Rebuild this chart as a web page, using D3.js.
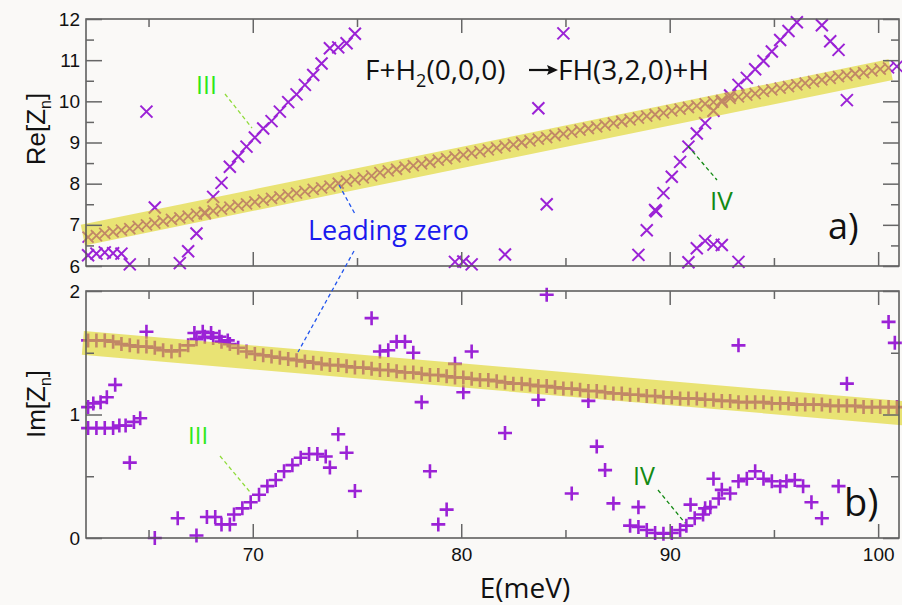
<!DOCTYPE html>
<html><head><meta charset="utf-8">
<script src="https://cdn.jsdelivr.net/npm/d3@7"></script>
<style>html,body{margin:0;padding:0;background:#faf9f7;} svg{display:block}</style>
</head><body><svg id="c" width="902" height="605"></svg>
<script>
// ---------------- data ----------------
const leadE = [62.1,62.5,62.9,63.3,63.7,64.1,64.5,64.9,65.3,65.7,66.1,66.5,66.9,67.3,67.7,68.1,68.5,68.9,69.3,69.7,70.1,70.5,70.9,71.3,71.7,72.1,72.5,72.9,73.3,73.7,74.1,74.5,74.9,75.3,75.7,76.1,76.5,76.9,77.3,77.7,78.1,78.5,78.9,79.3,79.7,80.1,80.5,80.9,81.3,81.7,82.1,82.5,82.9,83.3,83.7,84.1,84.5,84.9,85.3,85.7,86.1,86.5,86.9,87.3,87.7,88.1,88.5,88.9,89.3,89.7,90.1,90.5,90.9,91.3,91.7,92.1,92.5,92.9,93.3,93.7,94.1,94.5,94.9,95.3,95.7,96.1,96.5,96.9,97.3,97.7,98.1,98.5,98.9,99.3,99.7,100.1,100.5,100.9];
const leadRe = [6.70,6.74,6.79,6.83,6.87,6.91,6.96,7.00,7.04,7.09,7.13,7.17,7.21,7.26,7.30,7.34,7.38,7.43,7.47,7.51,7.56,7.60,7.64,7.68,7.73,7.77,7.81,7.86,7.90,7.94,8.01,8.06,8.10,8.14,8.19,8.27,8.31,8.35,8.40,8.44,8.48,8.52,8.57,8.61,8.65,8.70,8.74,8.78,8.82,8.87,8.91,8.95,9.00,9.04,9.08,9.12,9.17,9.21,9.25,9.30,9.34,9.38,9.42,9.47,9.51,9.55,9.59,9.64,9.68,9.72,9.77,9.81,9.85,9.89,9.94,9.98,10.02,10.07,10.11,10.15,10.19,10.24,10.28,10.32,10.36,10.40,10.44,10.48,10.52,10.56,10.60,10.63,10.67,10.70,10.74,10.78,10.81,10.85];
const leadIm = [1.60,1.60,1.60,1.59,1.57,1.56,1.55,1.55,1.54,1.52,1.51,1.52,1.56,1.61,1.63,1.62,1.59,1.57,1.54,1.51,1.49,1.48,1.47,1.46,1.45,1.44,1.43,1.42,1.41,1.40,1.40,1.39,1.38,1.38,1.37,1.36,1.36,1.35,1.34,1.34,1.33,1.32,1.32,1.31,1.30,1.30,1.29,1.28,1.28,1.27,1.26,1.25,1.25,1.24,1.23,1.23,1.22,1.21,1.21,1.20,1.19,1.19,1.18,1.17,1.17,1.16,1.16,1.15,1.15,1.14,1.14,1.13,1.13,1.13,1.12,1.12,1.11,1.11,1.10,1.10,1.10,1.10,1.09,1.09,1.09,1.08,1.08,1.08,1.08,1.07,1.07,1.07,1.07,1.06,1.06,1.06,1.06,1.06];

// Re[Z] other zeros (top panel)
const reIIIE = [66.5,66.9,67.3,67.7,68.1,68.5,68.9,69.3,69.7,70.1,70.5,70.9,71.3,71.7,72.1,72.5,72.9,73.3,73.7,74.1,74.5,74.9];
const reIIIV = [6.07,6.36,6.79,7.28,7.68,8.02,8.41,8.66,8.90,9.12,9.34,9.52,9.75,9.98,10.17,10.40,10.64,10.92,11.29,11.31,11.41,11.64];
const reIVE = [88.5,88.9,89.3,89.35,89.7,90.1,90.5,90.9,91.3,91.7,92.1,92.5,92.9,93.3,93.7,94.1,94.5,94.9,95.3,95.7,96.1,97.3,97.7,98.1,98.5];
const reIVV = [6.27,6.87,7.36,7.33,7.77,8.17,8.53,8.90,9.22,9.47,9.77,9.99,10.14,10.40,10.57,10.78,10.98,11.21,11.49,11.71,11.92,11.85,11.46,11.25,10.03];
const reOtherE = [62.1,62.5,62.9,63.3,63.7,64.1,64.9,65.3,79.7,80.1,80.5,82.1,83.7,84.1,84.9,90.9,91.3,91.7,92.1,92.5,93.3];
const reOtherV = [6.26,6.30,6.33,6.31,6.30,6.04,9.75,7.42,6.10,6.11,6.04,6.28,9.83,7.50,11.65,6.09,6.43,6.61,6.52,6.51,6.10];

// Im[Z] other zeros (bottom panel)
const imIIIE = [65.3,66.4,67.3,67.8,68.2,68.5,68.9,69.1,69.5,69.9,70.3,70.7,71.1,71.5,71.9,72.3,72.7,73.1,73.5,73.7,74.1,74.5,74.9];
const imIIIV = [0.00,0.16,0.02,0.17,0.17,0.11,0.11,0.19,0.24,0.29,0.35,0.42,0.47,0.54,0.59,0.65,0.68,0.68,0.66,0.57,0.84,0.69,0.38];
const imIVE = [88.1,88.5,88.5,88.9,89.3,89.7,90.1,90.5,90.8,91.0,91.2,91.6,91.7,91.95,92.1,92.35,92.5,92.9,93.3,93.7,94.1,94.5,94.9,95.3,95.6,96.0,96.4,96.8,97.3,98.1];
const imIVV = [0.10,0.25,0.09,0.065,0.04,0.035,0.04,0.065,0.10,0.27,0.16,0.19,0.24,0.25,0.48,0.32,0.39,0.36,0.46,0.48,0.54,0.48,0.46,0.42,0.46,0.47,0.42,0.29,0.16,0.42];
const imOtherE = [62.1,62.35,62.7,63.0,63.4,62.1,62.5,62.9,63.3,63.6,63.9,64.3,64.6,64.1,64.9,67.2,67.6,68.0,68.4,68.8,75.7,76.1,76.5,76.9,77.3,77.7,78.1,78.5,78.9,79.3,79.7,80.1,80.5,82.1,83.7,84.1,85.3,86.1,86.5,86.9,87.3,93.3,98.5,100.5,100.8];
const imOtherV = [1.06,1.09,1.10,1.14,1.24,0.89,0.89,0.89,0.89,0.91,0.91,0.94,0.97,0.61,1.67,1.66,1.67,1.66,1.63,1.60,1.78,1.51,1.52,1.59,1.59,1.50,1.10,0.54,0.11,0.23,1.41,1.18,1.51,0.85,1.12,1.97,0.36,1.11,0.74,0.55,0.28,1.56,1.25,1.75,1.58];

const xMajor = [70,80,90,100];
const xMinor = [65,75,85,95];
const reMajor = [6,7,8,9,10,11,12];
const reMinor = [6.5,7.5,8.5,9.5,10.5,11.5];
const imMajor = [0,1,2];
const imMinor = [0.5,1.5];

// ---------------- layout ----------------
const svg = d3.select("#c");
const W = 902, H = 605;
svg.append("rect").attr("width", W).attr("height", H).attr("fill", "#faf9f7");

const L = 86, R = 899;
const topT = 19, topB = 266, botT = 291, botB = 538;
const x = d3.scaleLinear().domain([62, 101]).range([L, R]);
const yRe = d3.scaleLinear().domain([6, 12]).range([topB, topT]);
const yIm = d3.scaleLinear().domain([0, 2]).range([botB, botT]);

const PURPLE = "#9b22d6";
const xPath = s => `M${-s},${-s}L${s},${s}M${-s},${s}L${s},${-s}`;
const pPath = s => `M${-s},0L${s},0M0,${-s}L0,${s}`;

function marks(g, E, V, y, shape, size, sw) {
  g.selectAll(null).data(E.map((e, i) => [e, V[i]])).join("path")
    .attr("transform", d => `translate(${x(d[0])},${y(d[1])})`)
    .attr("d", shape(size))
    .attr("fill", "none").attr("stroke", PURPLE).attr("stroke-width", sw);
}

const gTop = svg.append("g");
marks(gTop, reOtherE, reOtherV, yRe, xPath, 6, 2);
marks(gTop, reIIIE, reIIIV, yRe, xPath, 6, 2);
marks(gTop, reIVE, reIVV, yRe, xPath, 6, 2);
marks(gTop, leadE, leadRe, yRe, xPath, 5.5, 1.8);

const gBot = svg.append("g");
marks(gBot, imOtherE, imOtherV, yIm, pPath, 7, 2.6);
marks(gBot, imIIIE, imIIIV, yIm, pPath, 7, 2.6);
marks(gBot, imIVE, imIVV, yIm, pPath, 7, 2.6);
marks(gBot, leadE, leadIm, yIm, pPath, 7, 2.6);

// highlight bands (translucent yellow)
const band = (e0, v0, e1, v1, y, w) => svg.append("line")
  .attr("x1", x(e0)).attr("y1", y(v0)).attr("x2", x(e1)).attr("y2", y(v1))
  .attr("stroke", "rgb(220,210,20)").attr("stroke-opacity", 0.58)
  .attr("stroke-width", w);
band(61.85, 6.75, 100.6, 10.77, yRe, 21);
band(61.85, 1.58, 101.2, 1.01, yIm, 24);

// frames and axes
function frame(t, b, y, major, minor, showX) {
  svg.append("rect").attr("x", L).attr("y", t).attr("width", R - L).attr("height", b - t)
    .attr("fill", "none").attr("stroke", "#555").attr("stroke-width", 1.5);
  const style = g => {
    g.select(".domain").remove();
    g.selectAll("line").attr("stroke", "#666").attr("stroke-width", 1.5);
    g.selectAll("text").attr("fill", "#111").attr("font-family", "Liberation Sans, Arial, sans-serif").attr("font-size", 19);
  };
  svg.append("g").attr("transform", `translate(${L},0)`)
    .call(d3.axisLeft(y).tickValues(major).tickSize(-16).tickPadding(6).tickFormat(d3.format("d"))).call(style);
  svg.append("g").attr("transform", `translate(${L},0)`)
    .call(d3.axisLeft(y).tickValues(minor).tickSize(-8).tickFormat("")).call(style);
  svg.append("g").attr("transform", `translate(${R},0)`)
    .call(d3.axisRight(y).tickValues(major).tickSize(-16).tickFormat("")).call(style);
  svg.append("g").attr("transform", `translate(${R},0)`)
    .call(d3.axisRight(y).tickValues(minor).tickSize(-8).tickFormat("")).call(style);
  svg.append("g").attr("transform", `translate(0,${t})`)
    .call(d3.axisTop(x).tickValues(xMajor).tickSize(-14).tickFormat("")).call(style);
  svg.append("g").attr("transform", `translate(0,${t})`)
    .call(d3.axisTop(x).tickValues(xMinor).tickSize(-8).tickFormat("")).call(style);
  svg.append("g").attr("transform", `translate(0,${b})`)
    .call(d3.axisBottom(x).tickValues(xMajor).tickSize(-14).tickPadding(10).tickFormat(showX ? d3.format("d") : "")).call(style);
  svg.append("g").attr("transform", `translate(0,${b})`)
    .call(d3.axisBottom(x).tickValues(xMinor).tickSize(-8).tickFormat("")).call(style);
}
frame(topT, topB, yRe, reMajor, reMinor, false);
frame(botT, botB, yIm, imMajor, imMinor, true);

// axis titles
const SANS = "Liberation Sans, Arial, sans-serif";
const OPEN = "Open Sans, DejaVu Sans, sans-serif";
function yTitle(cx, cy, main) {
  const t = svg.append("text").attr("transform", `translate(${cx},${cy}) rotate(-90)`)
    .attr("text-anchor", "middle").attr("font-family", SANS).attr("font-size", 26).attr("fill", "#111");
  t.append("tspan").text(main + "[Z");
  t.append("tspan").attr("font-size", 16).attr("dy", 6).text("n");
  t.append("tspan").attr("dy", -6).text("]");
}
yTitle(45, 129, "Re");
yTitle(45, 404, "Im");
svg.append("text").attr("x", 525).attr("y", 598).attr("text-anchor", "middle")
  .attr("font-family", OPEN).attr("font-size", 28).attr("fill", "#111").text("E(meV)");

// title
const tt = svg.append("text").attr("x", 365).attr("y", 80).attr("font-family", OPEN).attr("font-size", 28).attr("fill", "#111");
tt.append("tspan").text("F+H");
tt.append("tspan").attr("font-size", 18).attr("dy", 7).text("2");
tt.append("tspan").attr("dy", -7).text("(0,0,0)");
svg.append("text").attr("x", 558).attr("y", 80).attr("font-family", OPEN).attr("font-size", 28).attr("fill", "#111").text("FH(3,2,0)+H");
svg.append("line").attr("x1", 529).attr("y1", 70).attr("x2", 550).attr("y2", 70).attr("stroke", "#111").attr("stroke-width", 2.2);
svg.append("path").attr("d", "M558,70 L547,65 L549,70 L547,75 Z").attr("fill", "#111");

// panel labels
svg.append("text").attr("x", 828).attr("y", 239).attr("font-family", OPEN).attr("font-size", 36).attr("fill", "#111").text("a)");
svg.append("text").attr("x", 844).attr("y", 516).attr("font-family", OPEN).attr("font-size", 38).attr("fill", "#111").text("b)");

// annotations
function dash(x1, y1, x2, y2, c, w) {
  svg.append("line").attr("x1", x1).attr("y1", y1).attr("x2", x2).attr("y2", y2)
    .attr("stroke", c).attr("stroke-width", w || 1.3).attr("stroke-dasharray", "4,3");
}
function label(xp, yp, txt, c, fs) {
  svg.append("text").attr("x", xp).attr("y", yp).attr("font-family", OPEN).attr("font-size", fs).attr("fill", c).text(txt);
}
label(196, 94, "III", "#2ee81a", 25);
dash(225, 94, 252, 128, "#8fdc3a");
label(710, 210, "IV", "#138a13", 26);
dash(688, 146, 717, 180, "#138a13");
label(188, 444, "III", "#2ee81a", 24);
dash(220, 456, 250, 492, "#8fdc3a");
label(633, 485, "IV", "#138a13", 25);
dash(658, 490, 685, 523, "#138a13");
label(308, 240, "Leading zero", "#1a1aee", 27);
dash(339, 185, 355, 214, "#2255ee");
dash(354, 251, 298, 352, "#2255ee");
</script></body></html>
